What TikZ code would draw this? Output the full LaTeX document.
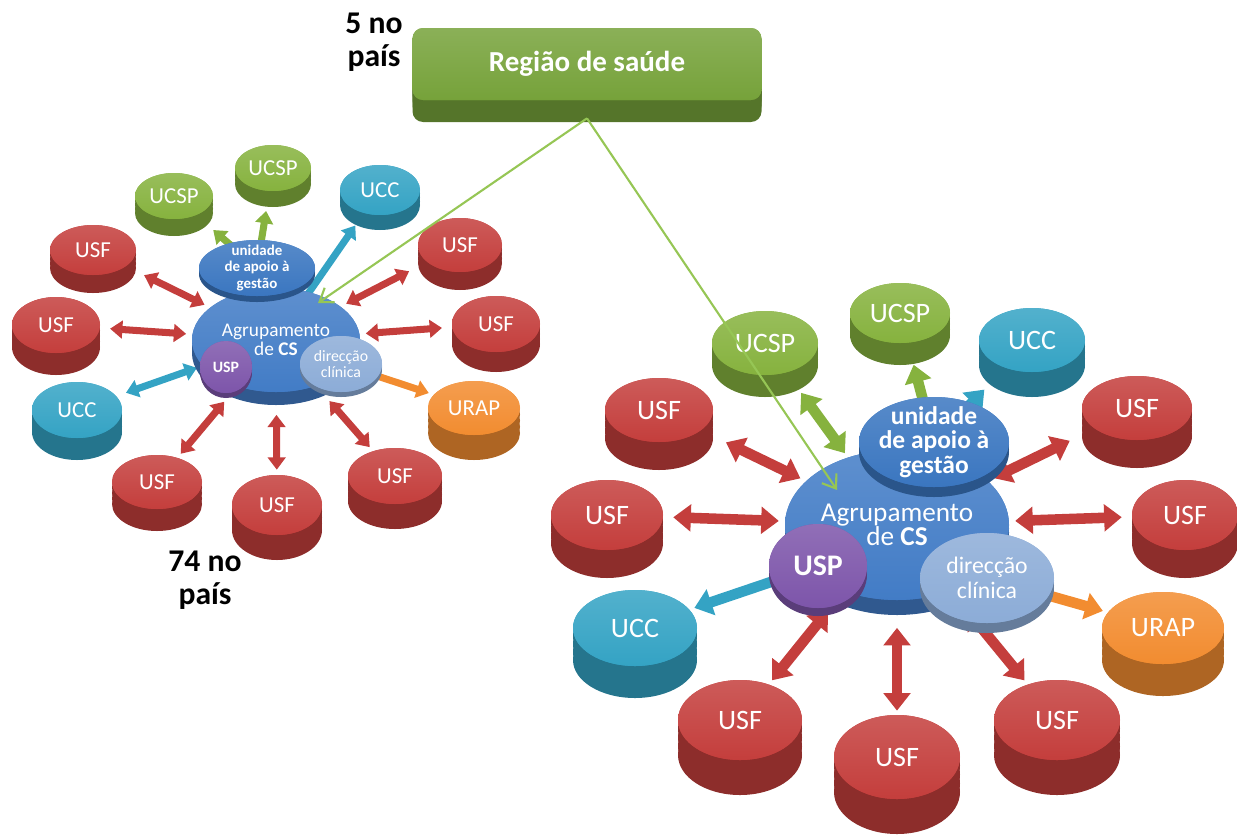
\documentclass[tikz,border=0pt]{standalone}
\usepackage{fontspec}
\setmainfont{Carlito}
\usepackage{tikz}
\usetikzlibrary{arrows.meta, shapes.geometric, calc}

\definecolor{usfred}{RGB}{196,62,60}
\definecolor{ucspgreen}{RGB}{134,178,62}
\definecolor{regiaoverde}{RGB}{118,162,58}
\definecolor{uccteal}{RGB}{52,163,196}
\definecolor{uraporange}{RGB}{242,140,48}
\definecolor{agrblue}{RGB}{66,124,198}
\definecolor{unidblue}{RGB}{58,118,192}
\definecolor{usppurple}{RGB}{125,85,170}
\definecolor{dirblue}{RGB}{140,172,215}
\definecolor{linhaverde}{RGB}{150,198,85}

\pgfdeclarelayer{fundo}
\pgfsetlayers{fundo,main}

\tikzset{
  disco/.style 2 args={ellipse, inner sep=0pt, draw=none, text=white, align=center,
    fill=#1,
    preaction={fill=#1!72!black, transform canvas={yshift=-#2cm}},
    preaction={fill=#1!72!black, transform canvas={yshift=-#2cm*0.75}},
    preaction={fill=#1!72!black, transform canvas={yshift=-#2cm*0.5}},
    preaction={fill=#1!72!black, transform canvas={yshift=-#2cm*0.25}},
    postaction={top color=#1!85!white, bottom color=#1}},
  rotL/.style={font=\fontsize{13}{14}\selectfont},
  rotR/.style={font=\fontsize{16}{17}\selectfont},
  setaL/.style={line width=4pt, shorten <=0.12cm, shorten >=0.2cm},
  setaR/.style={line width=6pt, shorten <=0.12cm, shorten >=0.2cm},
  duplaL/.style={setaL, arrows={Triangle[width=10pt,length=7pt]-Triangle[width=10pt,length=7pt]}},
  simplesL/.style={setaL, arrows={-Triangle[width=10pt,length=7pt]}},
  duplaR/.style={setaR, arrows={Triangle[width=15pt,length=10pt]-Triangle[width=15pt,length=10pt]}},
  simplesR/.style={setaR, arrows={-Triangle[width=15pt,length=10pt]}},
  ligacao/.style={draw=linhaverde, line width=1.2pt, -{Straight Barb[length=7pt,width=10pt]}},
  numero/.style={font=\bfseries\fontsize{18}{19}\selectfont, align=center, inner sep=0pt}
}

\begin{document}
\begin{tikzpicture}[inner sep=0pt]

	\useasboundingbox (0,0) rectangle (24.74,-16.68);

	% regiao de saude
	\node[disco={regiaoverde}{0.44}, rectangle, rounded corners=6pt, minimum width=6.98cm, minimum height=1.44cm, font=\bfseries\fontsize{16.5}{18}\selectfont](regiao) at (11.74,-1.28) {Região de saúde};
	\node[numero](cinco) at (7.48,-0.84) {5 no\\país};
	\node[numero](setenta) at (4.10,-11.60) {74 no\\país};

	% agrupamento pequeno
	\node[disco={agrblue}{0.26}, minimum width=3.36cm, minimum height=2.08cm, label={[text=white, align=center, font=\fontsize{11}{10.5}\selectfont]center:{Agrupamento\\de \textbf{CS}}}](agrL) at (5.52,-6.80) {};
	\node[disco={unidblue}{0.12}, minimum width=2.32cm, minimum height=1.12cm, label={[text=white, align=center, font=\bfseries\fontsize{8.5}{9.4}\selectfont]center:{unidade\\de apoio à\\gestão}}](unidL) at (5.14,-5.36) {};
	\node[disco={usppurple}{0.1}, minimum width=1.04cm, minimum height=1.04cm, font=\bfseries\fontsize{9}{9}\selectfont](uspL) at (4.52,-7.34) {USP};
	\node[disco={dirblue}{0.1}, minimum width=1.64cm, minimum height=1.12cm, label={[text=white, align=center, font=\fontsize{9}{9.6}\selectfont]center:{direcção\\clínica}}](dirL) at (6.82,-7.28) {};

	\node[disco={ucspgreen}{0.34}, rotL, minimum width=1.56cm, minimum height=0.92cm](ucspL1) at (3.48,-3.92) {UCSP};
	\node[disco={ucspgreen}{0.32}, rotL, minimum width=1.52cm, minimum height=0.92cm](ucspL2) at (5.46,-3.36) {UCSP};
	\node[disco={uccteal}{0.30}, rotL, minimum width=1.60cm, minimum height=1.00cm](uccL3) at (7.60,-3.80) {UCC};
	\node[disco={usfred}{0.36}, rotL, minimum width=1.68cm, minimum height=1.08cm](usfL4) at (9.20,-4.90) {USF};
	\node[disco={usfred}{0.40}, rotL, minimum width=1.76cm, minimum height=1.12cm](usfL5) at (9.92,-6.48) {USF};
	\node[disco={uraporange}{0.50}, rotL, minimum width=1.84cm, minimum height=1.08cm](urapL6) at (9.48,-8.16) {URAP};
	\node[disco={usfred}{0.50}, rotL, minimum width=1.88cm, minimum height=1.12cm](usfL7) at (7.90,-9.52) {USF};
	\node[disco={usfred}{0.50}, rotL, minimum width=1.80cm, minimum height=1.20cm](usfL8) at (5.54,-10.10) {USF};
	\node[disco={usfred}{0.44}, rotL, minimum width=1.80cm, minimum height=1.08cm](usfL9) at (3.14,-9.64) {USF};
	\node[disco={uccteal}{0.44}, rotL, minimum width=1.80cm, minimum height=1.12cm](uccL10) at (1.54,-8.20) {UCC};
	\node[disco={usfred}{0.44}, rotL, minimum width=1.76cm, minimum height=1.12cm](usfL11) at (1.12,-6.50) {USF};
	\node[disco={usfred}{0.36}, rotL, minimum width=1.72cm, minimum height=1.00cm](usfL12) at (1.86,-5.00) {USF};

	% agrupamento grande
	\node[disco={agrblue}{0.30}, minimum width=4.48cm, minimum height=3.00cm, label={[text=white, align=center, font=\fontsize{15.5}{14}\selectfont]center:{Agrupamento\\de \textbf{CS}}}](agrR) at (17.94,-10.50) {};
	\node[disco={unidblue}{0.20}, minimum width=3.00cm, minimum height=1.80cm, label={[text=white, align=center, font=\bfseries\fontsize{14.5}{14}\selectfont]center:{unidade\\de apoio à\\gestão}}](unidR) at (18.68,-8.84) {};
	\node[disco={usppurple}{0.16}, minimum width=1.96cm, minimum height=1.68cm, font=\bfseries\fontsize{17}{18}\selectfont](uspR) at (16.36,-11.32) {USP};
	\node[disco={dirblue}{0.20}, minimum width=2.68cm, minimum height=1.80cm, label={[text=white, align=center, font=\fontsize{13.5}{14}\selectfont]center:{direcção\\clínica}}](dirR) at (19.74,-11.56) {};

	\node[disco={ucspgreen}{0.44}, rotR, minimum width=2.12cm, minimum height=1.28cm](ucspR1) at (15.30,-6.86) {UCSP};
	\node[disco={ucspgreen}{0.44}, rotR, minimum width=2.00cm, minimum height=1.20cm](ucspR2) at (18.00,-6.26) {UCSP};
	\node[disco={uccteal}{0.50}, rotR, minimum width=2.12cm, minimum height=1.28cm](uccR3) at (20.64,-6.80) {UCC};
	\node[disco={usfred}{0.56}, rotR, minimum width=2.20cm, minimum height=1.28cm](usfR4) at (22.74,-8.16) {USF};
	\node[disco={usfred}{0.56}, rotR, minimum width=2.12cm, minimum height=1.40cm](usfR5) at (23.70,-10.30) {USF};
	\node[disco={uraporange}{0.64}, rotR, minimum width=2.44cm, minimum height=1.44cm](urapR6) at (23.26,-12.56) {URAP};
	\node[disco={usfred}{0.70}, rotR, minimum width=2.52cm, minimum height=1.60cm](usfR7) at (21.14,-14.40) {USF};
	\node[disco={usfred}{0.70}, rotR, minimum width=2.52cm, minimum height=1.68cm](usfR8) at (17.94,-15.14) {USF};
	\node[disco={usfred}{0.70}, rotR, minimum width=2.48cm, minimum height=1.60cm](usfR9) at (14.80,-14.40) {USF};
	\node[disco={uccteal}{0.64}, rotR, minimum width=2.48cm, minimum height=1.52cm](uccR10) at (12.70,-12.56) {UCC};
	\node[disco={usfred}{0.56}, rotR, minimum width=2.24cm, minimum height=1.40cm](usfR11) at (12.14,-10.30) {USF};
	\node[disco={usfred}{0.56}, rotR, minimum width=2.16cm, minimum height=1.28cm](usfR12) at (13.18,-8.20) {USF};

	% setas por baixo dos discos
	\begin{pgfonlayer}{fundo}
	\draw[simplesL, ucspgreen, shorten >=0.45cm](unidL.center) -- (ucspL1);
	\draw[simplesL, ucspgreen, shorten >=0.4cm](unidL.center) -- (ucspL2);
	\draw[simplesL, uccteal, shorten >=0.3cm](agrL.center) -- (uccL3);
	\draw[duplaL, usfred, shorten >=0.4cm](agrL) -- (usfL4);
	\draw[duplaL, usfred](agrL) -- (usfL5);
	\draw[simplesL, uraporange, shorten >=0.1cm](dirL.center) -- (urapL6);
	\draw[duplaL, usfred, shorten <=0.4cm, shorten >=0.1cm](agrL) -- (usfL7);
	\draw[duplaL, usfred, shorten <=0.45cm, shorten >=0.1cm](agrL) -- (usfL8);
	\draw[duplaL, usfred, shorten <=0.4cm, shorten >=0.1cm](agrL) -- (usfL9);
	\draw[duplaL, uccteal](agrL) -- (uccL10);
	\draw[duplaL, usfred](agrL) -- (usfL11);
	\draw[duplaL, usfred, shorten >=0.4cm](agrL) -- (usfL12);

	\draw[duplaR, ucspgreen, shorten <=0.1cm, shorten >=0.5cm](agrR) -- (ucspR1);
	\draw[simplesR, ucspgreen, shorten >=0.45cm](unidR.center) -- (ucspR2);
	\draw[simplesR, uccteal, shorten >=0.6cm](unidR.center) -- (uccR3);
	\draw[duplaR, usfred, shorten >=0.55cm](agrR) -- (usfR4);
	\draw[duplaR, usfred](agrR) -- (usfR5);
	\draw[simplesR, uraporange, shorten >=0.1cm](dirR.center) -- (urapR6);
	\draw[duplaR, usfred, shorten <=0.5cm, shorten >=0.1cm](agrR) -- (usfR7);
	\draw[duplaR, usfred, shorten <=0.55cm, shorten >=0.08cm](agrR) -- (usfR8);
	\draw[duplaR, usfred, shorten <=0.5cm, shorten >=0.1cm](agrR) -- (usfR9);
	\draw[simplesR, uccteal, shorten >=0.1cm](uspR.center) -- (uccR10);
	\draw[duplaR, usfred](agrR) -- (usfR11);
	\draw[duplaR, usfred, shorten >=0.55cm](agrR) -- (usfR12);
	\end{pgfonlayer}

	% ligacoes da regiao
	\coordinate (alvoL) at (6.36,-6.06);
	\coordinate (alvoR) at (16.74,-9.80);
	\draw[ligacao]([yshift=-0.36cm]regiao.south) -- (alvoL);
	\draw[ligacao]([yshift=-0.36cm]regiao.south) -- (alvoR);

\end{tikzpicture}
\end{document}
